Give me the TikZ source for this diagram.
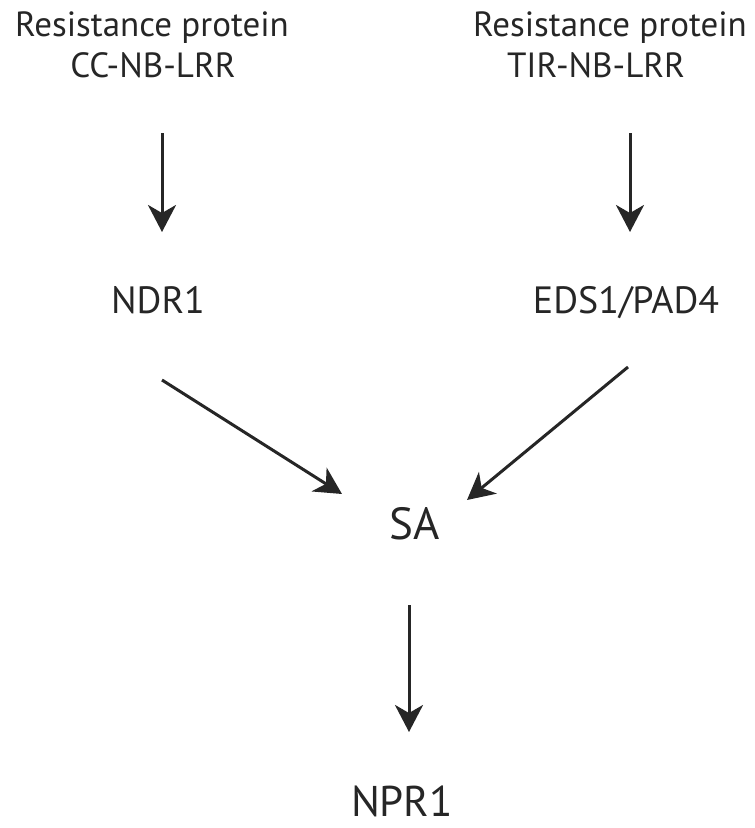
\documentclass[tikz,border=0pt]{standalone}
\usepackage{fontspec}
\setmainfont{PT Sans}
\usetikzlibrary{arrows.meta}
\begin{document}
\begin{tikzpicture}[x=1pt,y=-1pt,
  lbl/.style={anchor=base,inner sep=0pt,text=black!85},
  arr/.style={line width=3pt,draw=black!85,-{Stealth[length=27pt,width=28pt,inset=8pt]}}]
\useasboundingbox (0,0) rectangle (755,828);
\node[lbl,font=\fontsize{35}{40}\selectfont] (r1a) at (152,36) {Resistance protein};
\node[lbl,font=\fontsize{35}{40}\selectfont] (r1b) at (153,77) {CC-NB-LRR};
\node[lbl,font=\fontsize{35}{40}\selectfont] (r2a) at (610,36) {Resistance protein};
\node[lbl,font=\fontsize{35}{40}\selectfont] (r2b) at (596,77) {TIR-NB-LRR};
\node[lbl,font=\fontsize{38}{44}\selectfont] (ndr) at (158,313) {NDR1};
\node[lbl,font=\fontsize{38}{44}\selectfont] (eds) at (626,313) {EDS1/PAD4};
\node[lbl,font=\fontsize{45}{50}\selectfont] (sa) at (415,539) {SA};
\node[lbl,font=\fontsize{43}{50}\selectfont] (npr) at (402,816) {NPR1};
\coordinate (a1s) at (162,133); \coordinate (a1e) at (162,232);
\coordinate (a2s) at (630,133); \coordinate (a2e) at (630,232);
\coordinate (a3s) at (162,380); \coordinate (a3e) at (342,494);
\coordinate (a4s) at (628,367); \coordinate (a4e) at (467,500);
\coordinate (a5s) at (409,605); \coordinate (a5e) at (409,732);
\draw[arr] (a1s) -- (a1e);
\draw[arr] (a2s) -- (a2e);
\draw[arr] (a3s) -- (a3e);
\draw[arr] (a4s) -- (a4e);
\draw[arr] (a5s) -- (a5e);
\end{tikzpicture}
\end{document}
